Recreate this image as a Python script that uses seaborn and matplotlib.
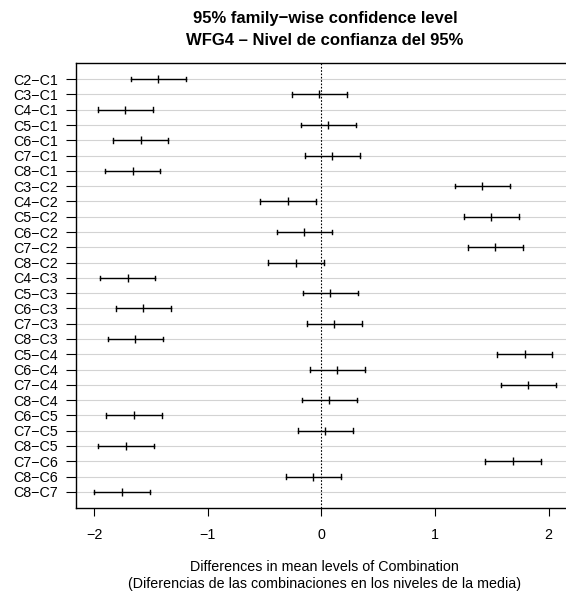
import numpy as np
import pandas as pd
import matplotlib
matplotlib.use("Agg")
import matplotlib.pyplot as plt
import seaborn as sns

# Tukey HSD
comparisons = ["C2−C1", "C3−C1", "C4−C1", "C5−C1", "C6−C1", "C7−C1", "C8−C1",
               "C3−C2", "C4−C2", "C5−C2", "C6−C2", "C7−C2", "C8−C2",
               "C4−C3", "C5−C3", "C6−C3", "C7−C3", "C8−C3",
               "C5−C4", "C6−C4", "C7−C4", "C8−C4",
               "C6−C5", "C7−C5", "C8−C5",
               "C7−C6", "C8−C6", "C8−C7"]

lwr = [-1.679, -0.263, -1.968, -0.184, -1.832, -0.149, -1.905,
       1.171, -0.537, 1.251, -0.394, 1.289, -0.467,
       -1.949, -0.165, -1.810, -0.130, -1.879,
       1.546, -0.105, 1.578, -0.175,
       -1.892, -0.210, -1.962,
       1.440, -0.314, -2.000]
diff = [-1.438, -0.022, -1.727, 0.057, -1.590, 0.092, -1.660,
        1.416, -0.292, 1.495, -0.156, 1.530, -0.225,
        -1.705, 0.079, -1.568, 0.114, -1.638,
        1.787, 0.137, 1.819, 0.067,
        -1.651, 0.032, -1.721,
        1.685, -0.073, -1.756]
upr = [-1.194, 0.222, -1.486, 0.302, -1.349, 0.337, -1.419,
       1.657, -0.051, 1.737, 0.089, 1.771, 0.019,
       -1.463, 0.324, -1.327, 0.356, -1.394,
       2.029, 0.381, 2.060, 0.311,
       -1.406, 0.276, -1.473,
       1.930, 0.171, -1.511]

rows = []
for c, a, b, d in zip(comparisons, lwr, diff, upr):
    for v in (a, b, d):
        rows.append({"comparison": c, "value": v})
df = pd.DataFrame(rows)

plt.rcParams["font.family"] = ["Liberation Sans", "DejaVu Sans"]

fig = plt.figure(figsize=(5.66, 5.97), dpi=100)
ax = fig.add_axes([75.7 / 566, 1 - 508.3 / 597, (574 - 75.7) / 566, (508.3 - 62.7) / 597])

n = len(comparisons)
# lineas grises horizontales
ax.hlines(np.arange(n), -3, 3, color="#D3D3D3", linewidth=0.8, zorder=0)
ax.axvline(0, color="black", linestyle=(0, (1.5, 1.5)), linewidth=0.8, zorder=1)

sns.pointplot(data=df, x="value", y="comparison", order=comparisons,
              estimator="median", errorbar=("pi", 100),
              linestyle="none", marker="|", markersize=6, markeredgewidth=1,
              capsize=0.3, err_kws={"linewidth": 1}, color="black", ax=ax)

lo, hi = min(lwr), max(upr)
pad = (hi - lo) * 0.04
ax.set_xlim(lo - pad, hi + pad)
ax.set_ylim(n - 1 + 0.04 * (n - 1), -0.04 * (n - 1))

ax.set_xticks([-2, -1, 0, 1, 2])
ax.tick_params(axis="both", direction="out", width=0.8, labelsize=10.3, colors="black")
ax.tick_params(axis="x", length=6, pad=8)
ax.tick_params(axis="y", length=7, pad=6)
ax.set_ylabel("")
ax.set_xlabel("Differences in mean levels of Combination\n(Diferencias de las combinaciones en los niveles de la media)",
              fontsize=10.3, labelpad=13, linespacing=1.25)
ax.set_title("95% family−wise confidence level\nWFG4 – Nivel de confianza del 95%",
             fontsize=12, fontweight="bold", pad=13, linespacing=1.55)
for s in ax.spines.values():
    s.set_linewidth(1)
    s.set_color("black")

fig.savefig("out.png", dpi=100)
